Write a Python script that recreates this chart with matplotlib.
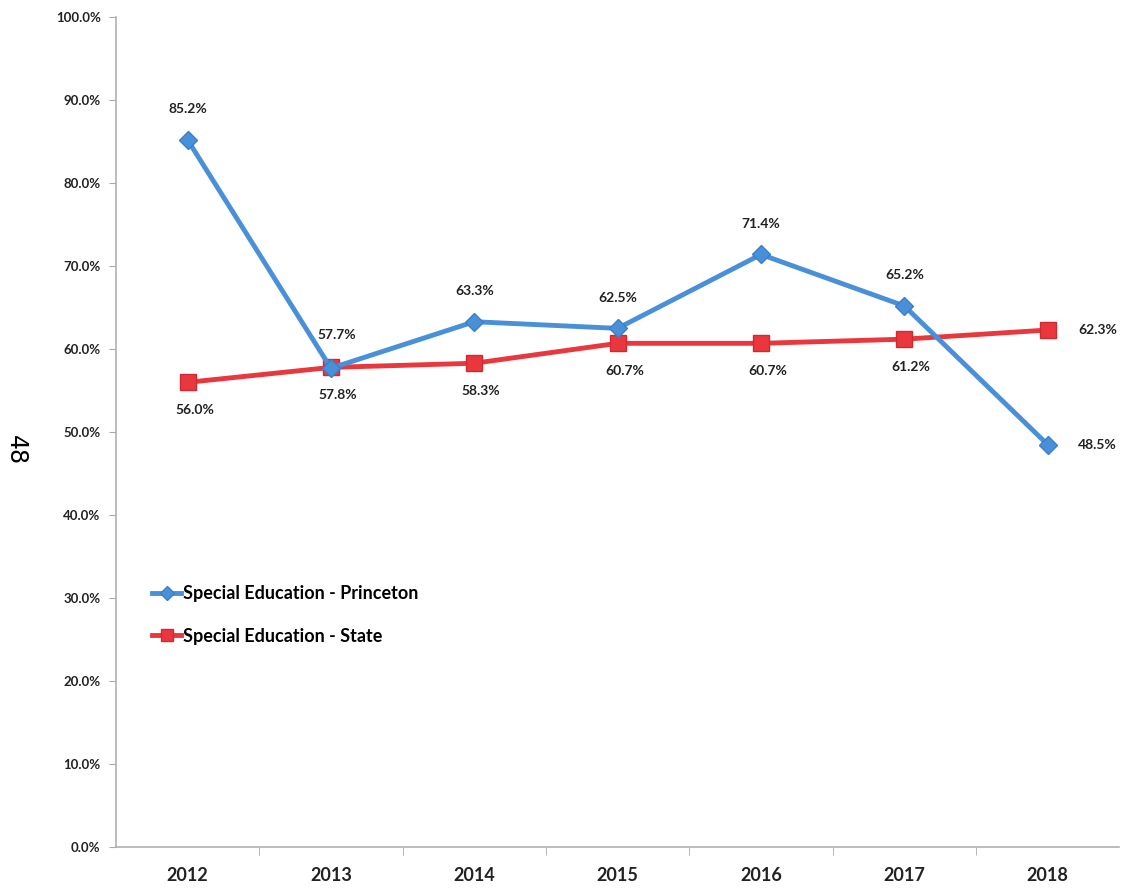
import matplotlib
matplotlib.use("Agg")
import matplotlib.pyplot as plt

# chart data
years = ["2012", "2013", "2014", "2015", "2016", "2017", "2018"]
princeton = [85.2, 57.7, 63.3, 62.5, 71.4, 65.2, 48.5]
state = [56.0, 57.8, 58.3, 60.7, 60.7, 61.2, 62.3]
y_ticks = [0, 10, 20, 30, 40, 50, 60, 70, 80, 90, 100]

blue = "#4a90d9"
red = "#e8383d"
font = ["Lato", "DejaVu Sans"]

fig = plt.figure(figsize=(11.25, 8.92), dpi=100)
ax = fig.add_axes([0.103, 0.05, 0.892, 0.931])

x = list(range(len(years)))
ax.plot(x, princeton, color=blue, lw=3.5, marker="D", ms=9,
        mfc=blue, mec="#3a7fc8", label="Special Education - Princeton", zorder=3)
ax.plot(x, state, color=red, lw=3.5, marker="s", ms=11,
        mfc=red, mec="#d02a30", label="Special Education - State", zorder=2)

# data labels
label_kw = dict(textcoords="offset points", va="center", fontsize=10,
                fontweight="bold", family=font, color="#222222")
for i, v in enumerate(princeton):
    if i == len(years) - 1:
        ax.annotate(f"{v:.1f}%", (i, v), xytext=(22, 0), ha="left", **label_kw)
    elif i == 1:
        ax.annotate(f"{v:.1f}%", (i, v), xytext=(4, 24), ha="center", **label_kw)
    else:
        ax.annotate(f"{v:.1f}%", (i, v), xytext=(0, 22), ha="center", **label_kw)
for i, v in enumerate(state):
    if i == len(years) - 1:
        ax.annotate(f"{v:.1f}%", (i, v), xytext=(22, 0), ha="left", **label_kw)
    else:
        ax.annotate(f"{v:.1f}%", (i, v), xytext=(5, -20), ha="center", **label_kw)

ax.set_xlim(-0.5, len(years) - 0.5)
ax.set_ylim(0, 100)
ax.set_yticks(y_ticks)
ax.set_yticklabels([f"{t:.1f}%" for t in y_ticks], fontsize=9.5, fontweight="bold",
                   family=font, color="#222222")
ax.set_xticks(x)
ax.set_xticklabels(years, fontsize=13, fontweight="bold", family=font, color="#222222")
ax.set_xticks([i + 0.5 for i in x[:-1]], minor=True)
ax.tick_params(axis="x", which="major", length=0, pad=14)
ax.tick_params(axis="x", which="minor", length=6, color="#aaaaaa")
ax.tick_params(axis="y", length=5, color="#aaaaaa", pad=6)

for side in ["top", "right"]:
    ax.spines[side].set_visible(False)
for side in ["left", "bottom"]:
    ax.spines[side].set_color("#b0b0b0")
    ax.spines[side].set_linewidth(1.2)

ax.legend(loc="upper left", bbox_to_anchor=(0.02, 0.335), frameon=False,
          prop={"family": font, "weight": "bold", "size": 13},
          handlelength=1.6, handletextpad=0.1, labelspacing=1.4, markerscale=0.8)

fig.text(0.014, 0.495, "48", rotation=-90, fontsize=17, ha="center", va="center",
         family="DejaVu Sans")

fig.savefig("out.png", dpi=100)
